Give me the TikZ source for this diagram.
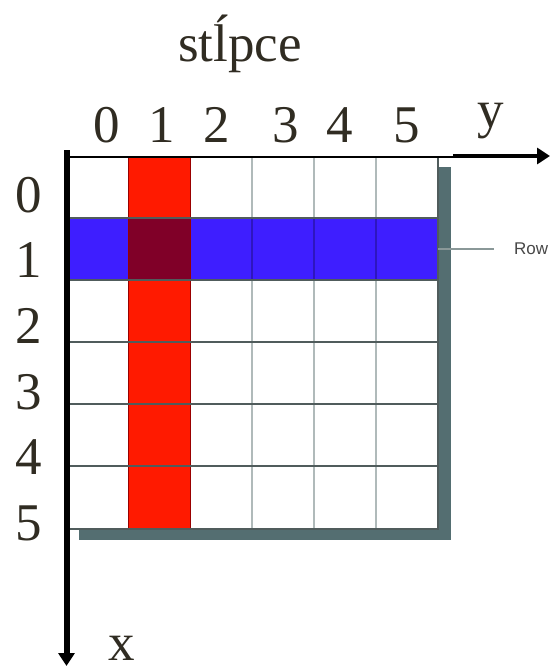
\documentclass[tikz,border=0pt]{standalone}
\usepackage{fontspec}
\setmainfont{Liberation Serif}
\newfontfamily\leaderfont{Liberation Sans}
\usetikzlibrary{arrows.meta}
\definecolor{colRed}{RGB}{255,26,0}
\definecolor{colBlue}{RGB}{62,30,255}
\definecolor{colMix}{RGB}{128,0,40}
\definecolor{colShadow}{RGB}{84,110,113}
\definecolor{colVline}{RGB}{176,186,186}
\definecolor{colHline}{RGB}{80,92,92}
\definecolor{colDigit}{RGB}{48,44,34}
\definecolor{colLeader}{RGB}{138,152,152}
\tikzset{
    digit/.style={font=\fontsize{53}{60}\selectfont, text=colDigit, inner sep=0pt},
    vline/.style={colVline, line width=1.5pt},
    hline/.style={colHline, line width=1.5pt}
}
\newcommand{\gridColLine}[1]{%
    \draw[vline] (#1,157) -- (#1,529);
    \draw[colBlue!75!black, line width=1.5pt] (#1,218) -- (#1,280);
}
\newcommand{\gridRowLine}[1]{%
    \draw[hline] (68,#1) -- (438,#1);
}

\begin{document}
\begin{tikzpicture}[x=1pt, y=-1pt]
    \useasboundingbox (0,0) rectangle (553,666);

    % --- tien a biela mriezka ---
    \fill[colShadow] (79,167) rectangle (451,540);
    \fill[white] (68,157) rectangle (438,529);

    % --- stlpec 1 a riadok 1 ---
    \fill[colRed] (128,157) rectangle (190,529);
    \fill[colBlue] (68,218) rectangle (438,280);
    \fill[colMix] (128,218) rectangle (190,280);

    % --- ciary mriezky ---
    \gridColLine{252}
    \gridColLine{314}
    \gridColLine{376}
    \draw[red!60!black, line width=1pt] (128,157) -- (128,529);
    \draw[red!60!black, line width=1pt] (190,157) -- (190,529);
    \gridRowLine{218}
    \gridRowLine{280}
    \gridRowLine{342}
    \gridRowLine{404}
    \gridRowLine{466}
    \draw[hline] (438,157) -- (438,529) -- (68,529);

    % --- osi ---
    \coordinate (yStart) at (68,157);
    \coordinate (yMid) at (453,156);
    \coordinate (yEnd) at (550,156);
    \coordinate (xStart) at (66.5,150);
    \coordinate (xEnd) at (66.5,666);
    \draw[line width=1.2pt] (yStart) -- (yMid |- yStart);
    \draw[line width=4.5pt, -{Triangle[length=13pt, width=16pt]}] (yMid) -- (yEnd);
    \draw[line width=6pt, -{Triangle[length=13pt, width=16pt]}] (xStart) -- (xEnd);

    % --- popisy ---
    \node[digit, anchor=base] (title) at (240,62) {stĺpce};
    \node[digit] (col0) at (107,125) {0};
    \node[digit] (col1) at (162,125) {1};
    \node[digit] (col2) at (217,125) {2};
    \node[digit] (col3) at (286,125) {3};
    \node[digit] (col4) at (340,125) {4};
    \node[digit] (col5) at (407,125) {5};
    \node[digit] (ylabel) at (491,121) {y};
    \node[digit] (row0) at (29,195) {0};
    \node[digit] (row1) at (29,260) {1};
    \node[digit] (row2) at (29,326) {2};
    \node[digit] (row3) at (29,392) {3};
    \node[digit] (row4) at (29,457) {4};
    \node[digit] (row5) at (29,523) {5};
    \node[digit] (xlabel) at (122,648) {x};

    % --- odkaz na riadok ---
    \coordinate (rowFrom) at (438,249);
    \coordinate (rowTo) at (494,249);
    \node[anchor=west, inner sep=0pt, text=black!72, font=\leaderfont\fontsize{17}{20}\selectfont] (rowLabel) at (514,249) {Row};
    \draw[colLeader, line width=2pt] (rowFrom) -- (rowTo);
\end{tikzpicture}
\end{document}
